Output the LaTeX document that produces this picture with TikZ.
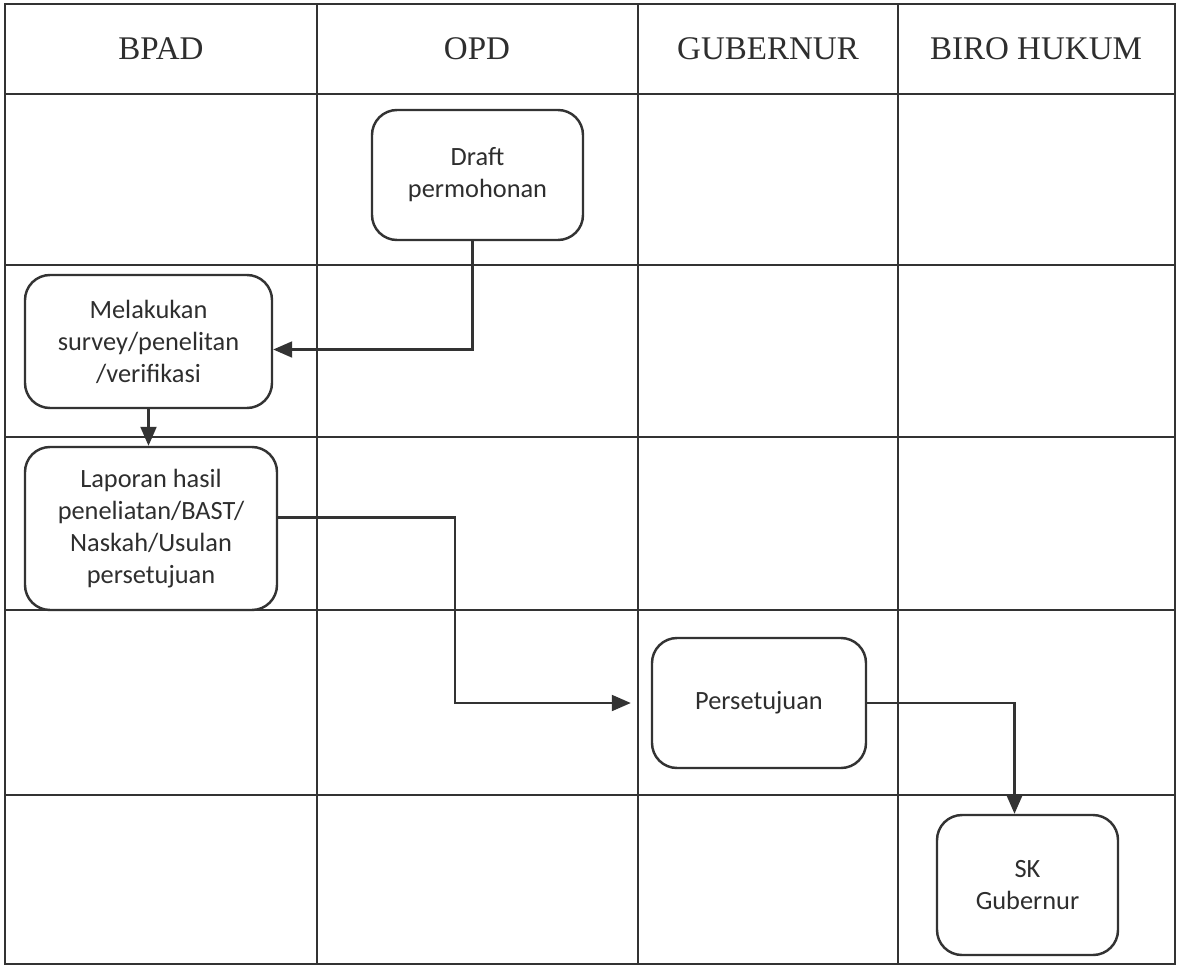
\documentclass[tikz,border=0pt]{standalone}
\usepackage{fontspec}
\setmainfont{Liberation Serif}
\newfontfamily\boxfont{Carlito}
\usetikzlibrary{arrows.meta}
\definecolor{inkgrey}{HTML}{333333}
\definecolor{textgrey}{HTML}{2E2E2E}
\tikzset{
  lane/.style={draw=inkgrey,line width=0.6pt},
  lanehead/.style={font=\fontsize{18.8}{22}\selectfont,text=textgrey},
  stepbox/.style={draw=inkgrey,line width=1.4pt,rounded corners=0.5cm,align=center,
    font=\boxfont\fontsize{15}{18.2}\selectfont,text=textgrey,inner sep=0pt},
  flow/.style={draw=inkgrey,line width=1.2pt,-{Triangle[length=0.38cm,width=0.32cm]}}
}
\begin{document}
\begin{tikzpicture}

        \useasboundingbox (0,0) rectangle (23.56,-19.34);

        % grid
        \draw[lane] (0.1,-0.08) rectangle (23.5,-19.28);
        \foreach \x in {6.34,12.76,17.96} \draw[lane] (\x,-0.08) -- (\x,-19.28);
        \foreach \y in {-1.88,-5.3,-8.74,-12.2,-15.9} \draw[lane] (0.1,\y) -- (23.5,\y);

        \begin{scope}[every node/.style={lanehead}]
          \node (bpad) at (3.22,-0.98) {BPAD};
          \node (opd) at (9.54,-0.98) {OPD};
          \node (gub) at (15.36,-0.98) {GUBERNUR};
          \node (biro) at (20.72,-0.98) {BIRO HUKUM};
        \end{scope}

        \begin{scope}[every node/.style={stepbox}]
          \node[minimum width=4.22cm,minimum height=2.6cm] (draft) at (9.55,-3.5) {Draft\\permohonan};
          \node[minimum width=4.94cm,minimum height=2.66cm] (survey) at (2.97,-6.83) {Melakukan\\survey/penelitan\\/verifikasi};
          \node[minimum width=5.04cm,minimum height=3.26cm] (laporan) at (3.02,-10.57) {Laporan hasil\\peneliatan/BAST/\\Naskah/Usulan\\persetujuan};
          \node[minimum width=4.28cm,minimum height=2.6cm] (setuju) at (15.18,-14.06) {Persetujuan};
          \node[minimum width=3.62cm,minimum height=2.8cm] (sk) at (20.55,-17.7) {SK\\Gubernur};
        \end{scope}

        \coordinate (jog) at (9.1,0);

        \draw[flow] ([xshift=-0.1cm]draft.south) |- ([yshift=-0.16cm]survey.east);
        \draw[flow] (survey.south) -- (survey.south |- laporan.north);
        \draw[flow,shorten >=0.4cm] ([yshift=0.22cm]laporan.east) -| (jog |- setuju.west) -- (setuju.west);
        \draw[flow] (setuju.east) -| ([xshift=-0.26cm]sk.north);

      \end{tikzpicture}
\end{document}
